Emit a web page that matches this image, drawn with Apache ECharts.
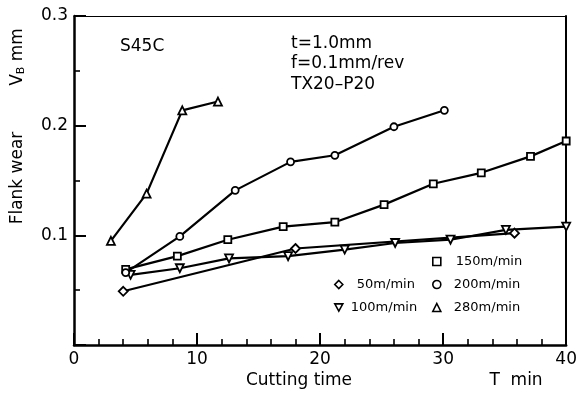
<!DOCTYPE html>
<html><head><meta charset="utf-8">
<script src="https://cdn.jsdelivr.net/npm/echarts@6/dist/echarts.min.js"></script>
<style>html,body{margin:0;padding:0;background:#fff}#c{width:580px;height:394px}</style>
</head><body><div id="c"></div>
<script>
// Data (cutting time T [min], flank wear VB [mm])
const t50 = [4.0, 18.0, 35.8];
const vb50 = [0.049, 0.088, 0.102];
const t100 = [4.6, 8.6, 12.6, 17.4, 22.0, 26.1, 30.6, 35.1, 40.0];
const vb100 = [0.064, 0.070, 0.079, 0.081, 0.087, 0.093, 0.096, 0.105, 0.108];
const t150 = [4.2, 8.4, 12.5, 17.0, 21.2, 25.2, 29.2, 33.1, 37.1, 40.0];
const vb150 = [0.069, 0.081, 0.096, 0.108, 0.112, 0.128, 0.147, 0.157, 0.172, 0.186];
const t200 = [4.2, 8.6, 13.1, 17.6, 21.2, 26.0, 30.1];
const vb200 = [0.066, 0.099, 0.141, 0.167, 0.173, 0.199, 0.214];
const t280 = [3.0, 5.9, 8.8, 11.7];
const vb280 = [0.095, 0.138, 0.214, 0.222];
const xTicks = [0, 10, 20, 30, 40];
const yTicks = [0.1, 0.2, 0.3];
const seriesNames = ['50m/min', '100m/min', '150m/min', '200m/min', '280m/min'];

const pairs = (xs, ys) => xs.map((x, i) => [x, ys[i]]);
const downTri = 'path://M0,0L10,0L5,9Z';
const symStyle = {color: '#fff', borderColor: '#000', borderWidth: 1.8};
const FONT = 'DejaVu Sans';

function mk(name, xs, ys, symbol, size) {
  return {
    name, type: 'line', data: pairs(xs, ys), symbol, symbolSize: size,
    showAllSymbol: true, clip: false,
    lineStyle: {color: '#000', width: 2.2}, itemStyle: symStyle,
    emphasis: {disabled: true}, animation: false
  };
}

function lg(name, icon, left, cy, pad) {
  return {
    data: [{name, icon}], left, top: cy - 7, padding: 0, itemWidth: 8, itemHeight: 8,
    itemStyle: {color: '#fff', borderColor: '#000', borderWidth: 1.6},
    textStyle: {fontFamily: FONT, fontSize: 13, color: '#000', padding: [0, 0, 0, pad]},
    selectedMode: false
  };
}

const chart = echarts.init(document.getElementById('c'));
chart.setOption({
  animation: false,
  backgroundColor: '#fff',
  grid: {left: 74, right: 13, top: 16, bottom: 49},
  xAxis: [{
    type: 'value', min: xTicks[0], max: xTicks[xTicks.length - 1], interval: 10,
    axisLine: {lineStyle: {color: '#000', width: 2.5}},
    axisTick: {inside: true, length: 12, lineStyle: {color: '#000', width: 2}},
    minorTick: {show: true, splitNumber: 5, length: 6, lineStyle: {color: '#000', width: 1.6}},
    splitLine: {show: false},
    axisLabel: {fontFamily: FONT, fontSize: 17, color: '#000', margin: 6,
      formatter: v => xTicks.includes(v) ? String(v) : ''}
  }, {
    type: 'value', position: 'top', min: 0, max: 40,
    axisLine: {show: true, onZero: false, lineStyle: {color: '#000', width: 1}},
    axisTick: {show: false}, axisLabel: {show: false}, splitLine: {show: false}
  }],
  yAxis: [{
    type: 'value', min: 0, max: yTicks[yTicks.length - 1], interval: 0.1,
    axisLine: {show: true, lineStyle: {color: '#000', width: 2.5}},
    axisTick: {show: true, inside: true, length: 12, lineStyle: {color: '#000', width: 2}},
    minorTick: {show: true, splitNumber: 2, length: 6, lineStyle: {color: '#000', width: 1.6}},
    splitLine: {show: false},
    axisLabel: {fontFamily: FONT, fontSize: 17, color: '#000', margin: 6,
      formatter: v => yTicks.some(t => Math.abs(t - v) < 1e-9) ? v.toFixed(1) : ''}
  }, {
    type: 'value', position: 'right', min: 0, max: 0.3,
    axisLine: {show: true, onZero: false, lineStyle: {color: '#000', width: 2}},
    axisTick: {show: false}, axisLabel: {show: false}, splitLine: {show: false}
  }],
  legend: [
    lg(seriesNames[2], 'rect', 432, 262, 10),
    lg(seriesNames[0], 'diamond', 334, 285, 9),
    lg(seriesNames[3], 'circle', 432, 285, 8),
    lg(seriesNames[1], downTri, 334, 308, 3),
    lg(seriesNames[4], 'triangle', 432, 308, 8)
  ],
  series: [
    mk(seriesNames[0], t50, vb50, 'diamond', 9),
    mk(seriesNames[1], t100, vb100, downTri, 8),
    mk(seriesNames[2], t150, vb150, 'rect', 7),
    mk(seriesNames[3], t200, vb200, 'circle', 7),
    mk(seriesNames[4], t280, vb280, 'triangle', 8)
  ],
  graphic: [
    {type: 'text', left: 120, top: 38, style: {text: 'S45C', font: '17px "DejaVu Sans"', fill: '#000'}},
    {type: 'text', left: 291, top: 33, style: {text: 't=1.0mm\nf=0.1mm/rev\nTX20\u2013P20', font: '17px "DejaVu Sans"', lineHeight: 20.5, fill: '#000'}},
    {type: 'text', x: 18, y: 178, rotation: Math.PI / 2, style: {text: 'Flank wear', font: '17px "DejaVu Sans"', fill: '#000', align: 'center', verticalAlign: 'middle'}},
    {type: 'text', x: 18, y: 57, rotation: Math.PI / 2, style: {
      text: 'V{s|B} mm', font: '17px "DejaVu Sans"', fill: '#000', align: 'center', verticalAlign: 'middle',
      rich: {s: {fontFamily: FONT, fontSize: 11, verticalAlign: 'bottom', padding: [6, 0, 0, 0]}}}},
    {type: 'text', x: 299, y: 381, style: {text: 'Cutting time', font: '17px "DejaVu Sans"', fill: '#000', align: 'center', verticalAlign: 'middle'}},
    {type: 'text', x: 516, y: 381, style: {text: 'T  min', font: '17px "DejaVu Sans"', fill: '#000', align: 'center', verticalAlign: 'middle'}}
  ]
});
</script></body></html>
